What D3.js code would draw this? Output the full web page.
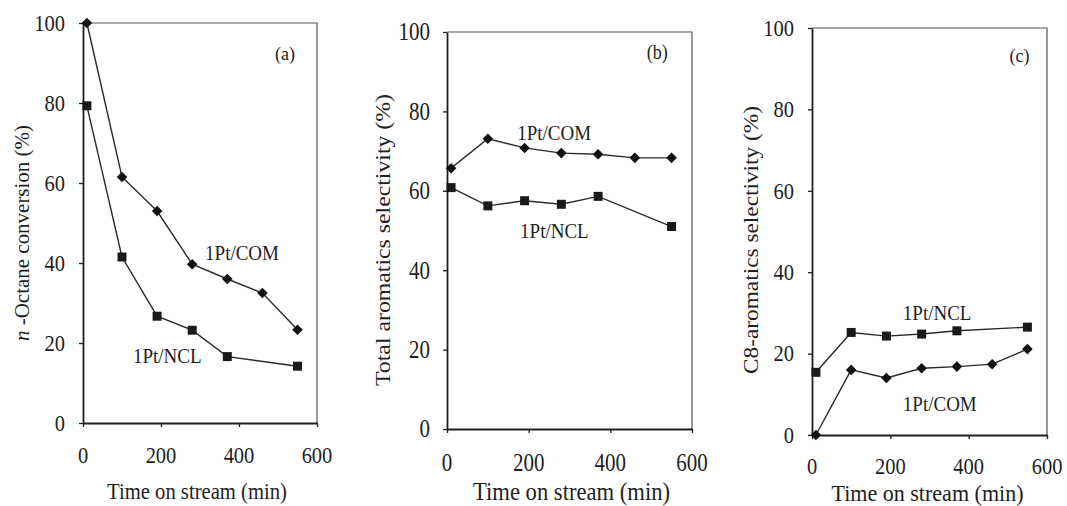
<!DOCTYPE html>
<html>
<head>
<meta charset="utf-8">
<script src="https://cdn.jsdelivr.net/npm/d3@7"></script>
<style>
  html, body { margin: 0; padding: 0; background: #fff; }
  svg { display: block; }
  text { font-family: "Liberation Serif", "Times New Roman", serif; fill: #1e1e1e; }
</style>
</head>
<body>
<svg id="chart" width="1067" height="506"></svg>
<script>
// Sampling times (min)
const timesCOM = [10, 100, 190, 280, 370, 460, 550];
const timesNCL = [10, 100, 190, 280, 370, 550];

// (a) n-Octane conversion (%)
const convCOM = [100, 61.5, 53, 39.7, 36, 32.5, 23.3];
const convNCL = [79.3, 41.5, 26.7, 23.2, 16.6, 14.2];

// (b) Total aromatics selectivity (%)
const aromCOM = [65.7, 73.1, 70.8, 69.5, 69.2, 68.3, 68.3];
const aromNCL = [60.8, 56.2, 57.5, 56.6, 58.6, 51.0];

// (c) C8-aromatics selectivity (%)
const c8COM = [0, 16.0, 14.0, 16.4, 16.8, 17.4, 21.1];
const c8NCL = [15.4, 25.2, 24.3, 24.8, 25.6, 26.5];

// Axis ticks
const xTicks = [0, 200, 400, 600];
const yTicks = [0, 20, 40, 60, 80, 100];

const svg = d3.select("#chart");
const ink = "#1e1e1e";

const panels = [
  {
    letter: "(a)", letterAt: [518, 92.5],
    box: { left: 83, right: 317, top: 23, bottom: 423 },
    fs: 20.5, sy: 1.08,
    ytitle: [{ t: "n", italic: true }, { t: " -Octane conversion (%)" }],
    ytitleX: 22, ytitleY: 233, ytitleLen: 216,
    xtitleX: 197, xtitleY: 491, xtitleLen: 180,
    xtickY: 455, ytickGap: 18,
    com: convCOM, ncl: convNCL,
    comLabel: [313, 42.5], nclLabel: [128, 16.8]
  },
  {
    letter: "(b)", letterAt: [515, 95],
    box: { left: 447, right: 692, top: 32, bottom: 429 },
    fs: 21, sy: 1.15,
    ytitle: [{ t: "Total aromatics selectivity (%)" }],
    ytitleX: 383, ytitleY: 240, ytitleLen: 292,
    xtitleX: 571.5, xtitleY: 492, xtitleLen: 197,
    xtickY: 463, ytickGap: 17,
    com: aromCOM, ncl: aromNCL,
    comLabel: [172, 74.6], nclLabel: [179, 50.1]
  },
  {
    letter: "(c)", letterAt: [530, 93.4],
    box: { left: 812, right: 1047, top: 28, bottom: 435 },
    fs: 20.5, sy: 1.1,
    ytitle: [{ t: "C8-aromatics selectivity (%)" }],
    ytitleX: 751, ytitleY: 240, ytitleLen: 268,
    xtitleX: 927.5, xtitleY: 493, xtitleLen: 192,
    xtickY: 466, ytickGap: 18,
    com: c8COM, ncl: c8NCL,
    comLabel: [232, 7.6], nclLabel: [232, 30]
  }
];

// Horizontal text, slightly taller than wide like the printed figure
function label(g, px, py, str, size, sy, anchor) {
  return g.append("text")
    .attr("transform", `translate(${px},${py}) scale(1,${sy})`)
    .attr("dy", "0.35em")
    .attr("text-anchor", anchor || "start")
    .attr("font-size", size)
    .text(str);
}

panels.forEach(p => {
  const b = p.box;
  const x = d3.scaleLinear().domain([0, 600]).range([b.left, b.right]);
  const y = d3.scaleLinear().domain([0, 100]).range([b.bottom, b.top]);
  const g = svg.append("g");

  // Frame: top and right edges
  g.append("path")
    .attr("d", `M${b.left},${b.top}H${b.right}V${b.bottom}`)
    .attr("fill", "none").attr("stroke", "#555").attr("stroke-width", 1.2);

  // Left axis (tick marks only; labels drawn below)
  const ya = g.append("g").attr("transform", `translate(${b.left},0)`)
    .call(d3.axisLeft(y).tickValues(yTicks).tickSize(4).tickSizeOuter(0).tickFormat(""));
  ya.select(".domain").attr("stroke", ink).attr("stroke-width", 1.8);
  ya.selectAll(".tick line").attr("stroke", ink).attr("stroke-width", 1.3);

  // Bottom axis
  const xa = g.append("g").attr("transform", `translate(0,${b.bottom})`)
    .call(d3.axisBottom(x).tickValues(xTicks).tickSize(4).tickSizeOuter(0).tickFormat(""));
  xa.select(".domain").attr("stroke", ink).attr("stroke-width", 1.8);
  xa.selectAll(".tick line").attr("stroke", ink).attr("stroke-width", 1.3);

  // Tick labels
  yTicks.forEach(v => label(g, b.left - p.ytickGap, y(v), String(v), p.fs, p.sy, "end"));
  xTicks.forEach(v => label(g, x(v), p.xtickY, String(v), p.fs, p.sy, "middle"));

  // Series lines
  const line = d3.line().x(d => x(d[0])).y(d => y(d[1]));
  const comPts = timesCOM.map((t, i) => [t, p.com[i]]);
  const nclPts = timesNCL.map((t, i) => [t, p.ncl[i]]);
  [comPts, nclPts].forEach(pts => {
    g.append("path").datum(pts).attr("d", line)
      .attr("fill", "none").attr("stroke", "#2a2a2a").attr("stroke-width", 1.4);
  });

  // Markers: diamonds for 1Pt/COM, squares for 1Pt/NCL
  g.selectAll(".dia").data(comPts).join("path")
    .attr("transform", d => `translate(${x(d[0])},${y(d[1])}) rotate(45)`)
    .attr("d", d3.symbol(d3.symbolSquare, 56)())
    .attr("fill", "#111");
  g.selectAll(".sq").data(nclPts).join("path")
    .attr("transform", d => `translate(${x(d[0])},${y(d[1])})`)
    .attr("d", d3.symbol(d3.symbolSquare, 81)())
    .attr("fill", "#1a1a1a");

  // Series names
  label(g, x(p.comLabel[0]), y(p.comLabel[1]), "1Pt/COM", 19, p.sy);
  label(g, x(p.nclLabel[0]), y(p.nclLabel[1]), "1Pt/NCL", 19, p.sy);

  // Panel letter
  label(g, x(p.letterAt[0]), y(p.letterAt[1]), p.letter, 18, p.sy, "middle");

  // Axis titles
  label(g, p.xtitleX, p.xtitleY, "Time on stream (min)", p.fs, p.sy, "middle")
    .attr("textLength", p.xtitleLen).attr("lengthAdjust", "spacingAndGlyphs");

  const yt = g.append("text")
    .attr("transform", `translate(${p.ytitleX},${p.ytitleY}) rotate(-90)`)
    .attr("dy", "0.35em").attr("text-anchor", "middle").attr("font-size", 21)
    .attr("textLength", p.ytitleLen).attr("lengthAdjust", "spacingAndGlyphs");
  p.ytitle.forEach(part => {
    yt.append("tspan").attr("font-style", part.italic ? "italic" : null).text(part.t);
  });
});
</script>
</body>
</html>
